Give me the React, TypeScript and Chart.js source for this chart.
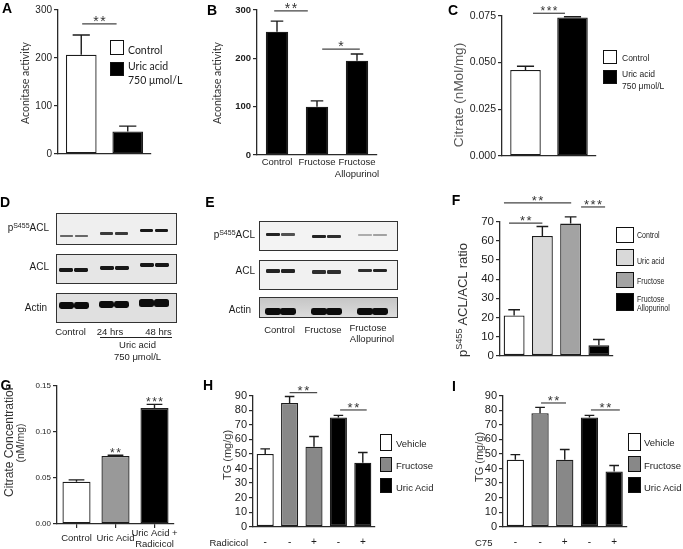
import React, { useEffect, useRef } from 'react';
import { Chart, registerables } from 'chart.js';

Chart.register(...registerables);

const FW = 683;
const FH = 549;
const SANS = '"Liberation Sans", Arial, Helvetica, sans-serif';
const HUMAN = 'Lato, "Open Sans", sans-serif';
const INK = '#1c1c1c';
const AXIS = '#2a2a2a';

// ---------- Panel A: aconitase activity (cells)
const A_GROUPS = ['Control', 'Uric acid 750 μmol/L'];
const A_MEANS = [207, 47];
const A_SEM = [41, 11];
const A_FILL = ['#ffffff', '#000000'];
const A_TICKS = [0, 100, 200, 300];

// ---------- Panel B: aconitase activity (fructose)
const B_GROUPS = [['Control'], ['Fructose'], ['Fructose', 'Allopurinol']];
const B_MEANS = [255, 100, 195];
const B_SEM = [22, 12, 14];
const B_FILL = ['#000000', '#000000', '#000000'];
const B_TICKS = [0, 100, 200, 300];

// ---------- Panel C: citrate
const C_GROUPS = ['Control', 'Uric acid 750 μmol/L'];
const C_MEANS = [0.046, 0.074];
const C_SEM = [0.002, 0.0004];
const C_FILL = ['#ffffff', '#000000'];
const C_TICKS = [0, 0.025, 0.05, 0.075];

// ---------- Panel F: pS455 ACL / ACL ratio
const F_GROUPS = ['Control', 'Uric acid', 'Fructose', 'Fructose Allopurinol'];
const F_MEANS = [21, 62.5, 69, 5.5];
const F_SEM = [3, 5, 3.5, 3];
const F_FILL = ['#ffffff', '#d9d9d9', '#a3a3a3', '#000000'];
const F_TICKS = [0, 10, 20, 30, 40, 50, 60, 70];

// ---------- Panel G: citrate concentration
const G_GROUPS = [['Control'], ['Uric Acid'], ['Uric Acid +', 'Radicicol']];
const G_MEANS = [0.046, 0.074, 0.126];
const G_SEM = [0.002, 0.0008, 0.004];
const G_FILL = ['#ffffff', '#999999', '#000000'];
const G_TICKS = [0, 0.05, 0.1, 0.15];

// ---------- Panels H and I: TG (mg/g)
const TG_LEGEND = ['Vehicle', 'Fructose', 'Uric Acid'];
const TG_LEGEND_FILL = ['#ffffff', '#888888', '#000000'];
const TG_FILL = ['#ffffff', '#888888', '#888888', '#000000', '#000000'];
const TG_TICKS = [0, 10, 20, 30, 40, 50, 60, 70, 80, 90];
const H_RADICICOL = ['-', '-', '+', '-', '+'];
const H_MEANS = [50, 85, 55, 75, 44];
const H_SEM = [3.5, 4.5, 7, 1.5, 7];
const I_C75 = ['-', '-', '+', '-', '+'];
const I_MEANS = [46, 78, 46, 75, 38];
const I_SEM = [3.5, 4, 7, 1.5, 4];

// ---------- significance marks (category units, value units)
const A_SIG = [{ from: 0.02, to: 0.76, at: 271, mark: '**' }];
const B_SIG = [
  { from: -0.07, to: 0.77, at: 298, mark: '**' },
  { from: 1.13, to: 2.07, at: 219, mark: '*' },
];
const C_SIG = [{ from: 0.16, to: 0.84, at: 0.0763, mark: '***' }];
const F_SIG = [
  { from: -0.36, to: 2.02, at: 79.8, mark: '**' },
  { from: 2.37, to: 3.22, at: 77.7, mark: '***' },
  { from: -0.18, to: 1.0, at: 69.3, mark: '**' },
];
const G_SIG = [
  { from: 1, to: 1, at: 0.0749, mark: '**', bare: true },
  { from: 2, to: 2, at: 0.13, mark: '***', bare: true },
];
const H_SIG = [
  { from: 1.0, to: 2.13, at: 92.1, mark: '**' },
  { from: 3.07, to: 4.16, at: 80.2, mark: '**' },
];
const I_SIG = [
  { from: 1.04, to: 2.05, at: 85, mark: '**' },
  { from: 3.06, to: 4.23, at: 80.2, mark: '**' },
];

// ---------- western blot band intensities (6 lanes)
const D_PACL = [0.6, 0.6, 0.8, 0.8, 0.95, 0.95];
const D_ACL = [0.95, 0.95, 0.95, 0.95, 0.95, 0.95];
const D_ACTIN = [1, 1, 1, 1, 1, 1];
const E_PACL = [0.9, 0.7, 0.9, 0.85, 0.3, 0.35];
const E_ACL = [0.9, 0.9, 0.85, 0.85, 0.85, 0.9];
const E_ACTIN = [1, 1, 1, 1, 1, 1];

type Sig = { from: number; to: number; at: number; mark: string; bare?: boolean };
type Spec = {
  labels: any[];
  values: number[];
  errors: number[];
  fill: string[];
  ticks: number[];
  area: { l: number; t: number; r: number; b: number };
  bar: number;
  yFont: any;
  yFmt?: (v: number) => string;
  xFont?: any;
  xPad?: number;
  xAlign?: string;
  xMarks?: boolean;
  sig: Sig[];
  sigSize: number;
};

function overlay(s: Spec) {
  return {
    id: 'errAndSig',
    afterDatasetsDraw(chart: any) {
      const ctx = chart.ctx;
      const ys = chart.scales.y;
      const xs = chart.scales.x;
      const meta = chart.getDatasetMeta(0);
      ctx.save();
      ctx.strokeStyle = INK;
      ctx.lineWidth = 1.4;
      meta.data.forEach((el: any, i: number) => {
        const e = s.errors[i];
        if (!e) return;
        const top = ys.getPixelForValue(s.values[i] + e);
        const half = el.width * 0.28;
        ctx.beginPath();
        ctx.moveTo(el.x, el.y);
        ctx.lineTo(el.x, top);
        ctx.moveTo(el.x - half, top);
        ctx.lineTo(el.x + half, top);
        ctx.stroke();
      });
      ctx.fillStyle = '#333';
      ctx.strokeStyle = '#444';
      ctx.lineWidth = 1.2;
      ctx.textAlign = 'center';
      ctx.textBaseline = 'alphabetic';
      ctx.font = `${s.sigSize}px ${SANS}`;
      try { (ctx as any).letterSpacing = '1.5px'; } catch (e) {}
      s.sig.forEach((g) => {
        const y = ys.getPixelForValue(g.at);
        const x1 = xs.getPixelForValue(g.from);
        const x2 = xs.getPixelForValue(g.to);
        if (!g.bare) {
          ctx.beginPath();
          ctx.moveTo(x1, y);
          ctx.lineTo(x2, y);
          ctx.stroke();
          ctx.fillText(g.mark, (x1 + x2) / 2 + 0.75, y + 2);
        } else {
          ctx.fillText(g.mark, (x1 + x2) / 2 + 0.75, y + 1.5);
        }
      });
      ctx.restore();
    },
  };
}

function buildConfig(s: Spec): any {
  const { l, t, r, b } = s.area;
  const ticks = s.ticks;
  return {
    type: 'bar',
    data: {
      labels: s.labels,
      datasets: [
        {
          data: s.values,
          backgroundColor: s.fill,
          borderColor: INK,
          borderWidth: 1.3,
          borderSkipped: false,
          barPercentage: s.bar,
          categoryPercentage: 1,
        },
      ],
    },
    options: {
      responsive: false,
      maintainAspectRatio: false,
      animation: false,
      devicePixelRatio: 1,
      events: [],
      layout: { padding: { left: 0, top: t, right: FW - r, bottom: 0 } },
      plugins: { legend: { display: false }, tooltip: { enabled: false }, title: { display: false } },
      scales: {
        x: {
          type: 'category',
          offset: true,
          grid: {
            display: !!s.xMarks,
            drawOnChartArea: false,
            drawTicks: !!s.xMarks,
            tickLength: 4,
            offset: false,
            color: AXIS,
            tickColor: AXIS,
            lineWidth: 1.2,
          },
          border: { display: true, color: AXIS, width: 1.3 },
          ticks: {
            display: !!s.xFont,
            autoSkip: false,
            maxRotation: 0,
            minRotation: 0,
            color: INK,
            font: s.xFont || { size: 10 },
            padding: s.xPad ?? 2,
            crossAlign: s.xAlign ?? 'near',
          },
          afterFit: (sc: any) => {
            sc.height = FH - b;
          },
        },
        y: {
          type: 'linear',
          min: ticks[0],
          max: ticks[ticks.length - 1],
          grid: {
            display: true,
            drawOnChartArea: false,
            drawTicks: true,
            tickLength: 4,
            color: AXIS,
            tickColor: AXIS,
            lineWidth: 1.2,
          },
          border: { display: true, color: AXIS, width: 1.3 },
          ticks: {
            autoSkip: false,
            color: INK,
            font: s.yFont,
            padding: 2,
            callback: (v: number) => (s.yFmt ? s.yFmt(v) : String(v)),
          },
          afterBuildTicks: (sc: any) => {
            sc.ticks = ticks.map((v) => ({ value: v }));
          },
          afterFit: (sc: any) => {
            sc.width = l;
          },
        },
      },
    },
    plugins: [overlay(s)],
  };
}

const SPECS: Spec[] = [
  {
    labels: A_GROUPS, values: A_MEANS, errors: A_SEM, fill: A_FILL, ticks: A_TICKS,
    area: { l: 58, t: 10, r: 151, b: 154 }, bar: 0.66,
    yFont: { family: SANS, size: 10 }, sig: A_SIG, sigSize: 14,
  },
  {
    labels: B_GROUPS, values: B_MEANS, errors: B_SEM, fill: B_FILL, ticks: B_TICKS,
    area: { l: 257, t: 10, r: 377, b: 155 }, bar: 0.56,
    yFont: { family: SANS, size: 9.5, weight: 'bold' },
    xFont: { family: SANS, size: 9.5 }, xPad: 2, xAlign: 'near',
    sig: B_SIG, sigSize: 14,
  },
  {
    labels: C_GROUPS, values: C_MEANS, errors: C_SEM, fill: C_FILL, ticks: C_TICKS,
    area: { l: 502, t: 15.7, r: 596, b: 156 }, bar: 0.65,
    yFont: { family: SANS, size: 10.5 }, yFmt: (v) => v.toFixed(3),
    sig: C_SIG, sigSize: 12,
  },
  {
    labels: F_GROUPS, values: F_MEANS, errors: F_SEM, fill: F_FILL, ticks: F_TICKS,
    area: { l: 500, t: 221.7, r: 613, b: 355.7 }, bar: 0.74,
    yFont: { family: SANS, size: 11.5 }, sig: F_SIG, sigSize: 13,
  },
  {
    labels: G_GROUPS, values: G_MEANS, errors: G_SEM, fill: G_FILL, ticks: G_TICKS,
    area: { l: 57, t: 386, r: 174, b: 524 }, bar: 0.72,
    yFont: { family: SANS, size: 8 }, yFmt: (v) => v.toFixed(2),
    xFont: { family: SANS, size: 9.5 }, xPad: 5, xAlign: 'center', xMarks: true,
    sig: G_SIG, sigSize: 12,
  },
  {
    labels: H_RADICICOL, values: H_MEANS, errors: H_SEM, fill: TG_FILL, ticks: TG_TICKS,
    area: { l: 253, t: 395.7, r: 375, b: 526.7 }, bar: 0.7,
    yFont: { family: SANS, size: 11 },
    xFont: { family: SANS, size: 10 }, xPad: 10, xAlign: 'near',
    sig: H_SIG, sigSize: 13,
  },
  {
    labels: I_C75, values: I_MEANS, errors: I_SEM, fill: TG_FILL, ticks: TG_TICKS,
    area: { l: 503, t: 395.7, r: 626.5, b: 526.7 }, bar: 0.7,
    yFont: { family: SANS, size: 11 },
    xFont: { family: SANS, size: 10 }, xPad: 10, xAlign: 'near',
    sig: I_SIG, sigSize: 13,
  },
];

function BarPanel({ spec }: { spec: Spec }) {
  const ref = useRef<HTMLCanvasElement>(null);
  useEffect(() => {
    const chart = new Chart(ref.current as HTMLCanvasElement, buildConfig(spec));
    return () => chart.destroy();
  }, []);
  return (
    <canvas
      ref={ref}
      width={FW}
      height={FH}
      style={{ position: 'absolute', left: 0, top: 0, width: FW, height: FH, pointerEvents: 'none' }}
    />
  );
}

function T(props: any) {
  const { x, y, children, size = 10, align = 'left', family = SANS, weight = 400, color = INK, sx = 1 } = props;
  const tx = align === 'center' ? '-50%' : align === 'right' ? '-100%' : '0';
  const origin = align === 'center' ? '50% 50%' : align === 'right' ? '100% 50%' : '0 50%';
  return (
    <div
      style={{
        position: 'absolute', left: x, top: y,
        transform: `translate(${tx}, -50%) scaleX(${sx})`, transformOrigin: origin,
        fontSize: size, fontFamily: family, fontWeight: weight, color, lineHeight: 1, whiteSpace: 'nowrap',
      }}
    >
      {children}
    </div>
  );
}

function V(props: any) {
  const { x, y, children, size = 10, family = SANS, color = INK } = props;
  return (
    <div
      style={{
        position: 'absolute', left: x, top: y, transform: 'translate(-50%, -50%) rotate(-90deg)',
        fontSize: size, fontFamily: family, color, lineHeight: 1, whiteSpace: 'nowrap',
      }}
    >
      {children}
    </div>
  );
}

function Sw({ x1, y1, x2, y2, fill }: any) {
  return (
    <div
      style={{
        position: 'absolute', left: x1, top: y1, width: x2 - x1, height: y2 - y1,
        background: fill, border: '1.3px solid #111', boxSizing: 'border-box',
      }}
    />
  );
}

function Letter({ x, y, children }: any) {
  return <T x={x} y={y} size={14} weight={700} align="center" color="#000">{children}</T>;
}

function BlotRow({ x1, x2, y1, y2, bg, ys, hs, alphas, bw, shift, sep = 7.5 }: any) {
  const w = x2 - x1;
  const bands = alphas.map((a: number, i: number) => {
    const g = Math.floor(i / 2);
    const cx = x1 + (g + 0.5) * (w / 3) + shift + (i % 2 === 0 ? -sep : sep);
    const cy = ys[g];
    const h = hs[g];
    return (
      <div
        key={i}
        style={{
          position: 'absolute', left: cx - bw / 2, top: cy - h / 2, width: bw, height: h,
          background: `rgba(12,12,12,${a})`, borderRadius: `${Math.min(h * 0.35, 2.5)}px`,
          filter: 'blur(0.6px)',
        }}
      />
    );
  });
  return (
    <>
      <div
        style={{
          position: 'absolute', left: x1, top: y1, width: x2 - x1, height: y2 - y1,
          background: bg, border: '1.5px solid #333', boxSizing: 'border-box',
        }}
      />
      {bands}
    </>
  );
}

const PACL = (
  <>
    p<sup style={{ fontSize: '0.7em', verticalAlign: '0.45em', lineHeight: 0 }}>S455</sup>ACL
  </>
);

export default function App() {
  return (
    <div
      style={{
        position: 'absolute', left: 0, top: 0, width: FW, height: FH, background: '#fff',
        overflow: 'hidden', fontFamily: SANS, color: INK,
      }}
    >
      {SPECS.map((s, i) => (
        <BarPanel key={i} spec={s} />
      ))}

      {/* panel letters */}
      <Letter x={7} y={8}>A</Letter>
      <Letter x={212} y={10}>B</Letter>
      <Letter x={453} y={10}>C</Letter>
      <Letter x={5} y={202}>D</Letter>
      <Letter x={210} y={202}>E</Letter>
      <Letter x={456} y={200}>F</Letter>
      <Letter x={6} y={385}>G</Letter>
      <Letter x={208} y={385}>H</Letter>
      <Letter x={454} y={386}>I</Letter>

      {/* axis titles */}
      <V x={25} y={83} size={10.5} family={HUMAN} color="#333">Aconitase activity</V>
      <V x={217} y={83} size={10.5} family={HUMAN} color="#333">Aconitase activity</V>
      <V x={459} y={95} size={13.5} color="#555">Citrate (nMol/mg)</V>
      <V x={462} y={300} size={13} color="#333">
        p<sup style={{ fontSize: '0.7em', verticalAlign: '0.45em', lineHeight: 0 }}>S455</sup> ACL/ACL ratio
      </V>
      <div style={{ position: 'absolute', left: 0, top: 386, width: 16, height: 130, overflow: 'hidden' }}>
        <div
          style={{
            position: 'absolute', left: 3, top: 111, transform: 'rotate(-90deg)', transformOrigin: '0 0',
            fontSize: 12, fontFamily: SANS, color: '#333', lineHeight: 1, whiteSpace: 'nowrap',
          }}
        >
          Citrate Concentration
        </div>
      </div>
      <V x={20} y={443} size={10.5} color="#333">(nM/mg)</V>
      <V x={227} y={455} size={11} color="#333">TG (mg/g)</V>
      <V x={479} y={457} size={11} color="#333">TG (mg/g)</V>

      {/* legend A */}
      <Sw x1={110} y1={40} x2={124} y2={55} fill={A_FILL[0]} />
      <Sw x1={110} y1={62} x2={124} y2={76} fill={A_FILL[1]} />
      <T x={128} y={50} size={10.5} family={HUMAN}>{A_GROUPS[0]}</T>
      <T x={128} y={66} size={10.5} family={HUMAN}>Uric acid</T>
      <T x={128} y={80} size={10.5} family={HUMAN}>750 μmol/L</T>

      {/* legend C */}
      <Sw x1={603} y1={50} x2={617} y2={64} fill={C_FILL[0]} />
      <Sw x1={603} y1={70} x2={617} y2={84} fill={C_FILL[1]} />
      <T x={622} y={57.5} size={8.5}>{C_GROUPS[0]}</T>
      <T x={622} y={74} size={8.5}>Uric acid</T>
      <T x={622} y={86} size={8.5}>750 μmol/L</T>

      {/* legend F */}
      <Sw x1={616} y1={227} x2={634} y2={243} fill={F_FILL[0]} />
      <Sw x1={616} y1={249} x2={634} y2={266} fill={F_FILL[1]} />
      <Sw x1={616} y1={272} x2={634} y2={288} fill={F_FILL[2]} />
      <Sw x1={616} y1={293} x2={634} y2={311} fill={F_FILL[3]} />
      <T x={637} y={234.5} size={9.5} sx={0.74}>{F_GROUPS[0]}</T>
      <T x={637} y={260.5} size={9.5} sx={0.74}>{F_GROUPS[1]}</T>
      <T x={637} y={280.5} size={9.5} sx={0.74}>{F_GROUPS[2]}</T>
      <T x={637} y={298.5} size={9.5} sx={0.74}>Fructose</T>
      <T x={637} y={307.5} size={9.5} sx={0.74}>Allopurinol</T>

      {/* legend H */}
      <Sw x1={380} y1={434} x2={392} y2={451} fill={TG_LEGEND_FILL[0]} />
      <Sw x1={380} y1={457} x2={392} y2={472} fill={TG_LEGEND_FILL[1]} />
      <Sw x1={380} y1={478} x2={392} y2={493} fill={TG_LEGEND_FILL[2]} />
      <T x={396} y={444} size={9.5}>{TG_LEGEND[0]}</T>
      <T x={396} y={466} size={9.5}>{TG_LEGEND[1]}</T>
      <T x={396} y={488} size={9.5}>{TG_LEGEND[2]}</T>
      <T x={248} y={543} size={9.5} align="right">Radicicol</T>

      {/* legend I */}
      <Sw x1={628} y1={433} x2={641} y2={451} fill={TG_LEGEND_FILL[0]} />
      <Sw x1={628} y1={456} x2={641} y2={472} fill={TG_LEGEND_FILL[1]} />
      <Sw x1={628} y1={477} x2={641} y2={493} fill={TG_LEGEND_FILL[2]} />
      <T x={644} y={443} size={9.5}>{TG_LEGEND[0]}</T>
      <T x={644} y={466} size={9.5}>{TG_LEGEND[1]}</T>
      <T x={644} y={488} size={9.5}>{TG_LEGEND[2]}</T>
      <T x={475} y={543} size={9.5}>C75</T>

      {/* blot D */}
      <BlotRow x1={56} x2={177} y1={213} y2={245} bg="#efefef" ys={[235.5, 233.5, 230.5]} hs={[2, 2.8, 3.5]} alphas={D_PACL} bw={13} shift={-2.5} />
      <BlotRow x1={56} x2={177} y1={254} y2={284} bg="#e6e6e6" ys={[269.5, 267.5, 264.5]} hs={[4, 4, 4]} alphas={D_ACL} bw={14} shift={-2.5} />
      <BlotRow x1={56} x2={177} y1={293} y2={323} bg="#e0e0e0" ys={[305.5, 304.5, 303]} hs={[7, 7, 8]} alphas={D_ACTIN} bw={15} shift={-2.5} />
      <T x={49} y={228} size={10} align="right">{PACL}</T>
      <T x={49} y={267} size={10} align="right">ACL</T>
      <T x={47} y={308} size={10} align="right">Actin</T>
      <T x={70.5} y={332} size={9.5} align="center">Control</T>
      <T x={110} y={332} size={9.5} align="center">24 hrs</T>
      <T x={158.5} y={332} size={9.5} align="center">48 hrs</T>
      <div style={{ position: 'absolute', left: 100, top: 336.5, width: 72, height: 1, background: '#222' }} />
      <T x={137.5} y={345} size={9.5} align="center">Uric acid</T>
      <T x={137.5} y={356.5} size={9.5} align="center">750 μmol/L</T>

      {/* blot E */}
      <BlotRow x1={259} x2={398} y1={221} y2={251} bg="#f3f3f3" ys={[234.5, 236.5, 235]} hs={[3, 3, 2]} alphas={E_PACL} bw={14} shift={-2} />
      <BlotRow x1={259} x2={398} y1={260} y2={290} bg="#f1f1f1" ys={[271, 272, 270.5]} hs={[3.5, 3.5, 3.5]} alphas={E_ACL} bw={14} shift={-2} />
      <BlotRow x1={259} x2={398} y1={297} y2={318} bg="linear-gradient(#c6c6c6, #dcdcdc)" ys={[311, 311.5, 311]} hs={[7, 7, 7]} alphas={E_ACTIN} bw={16} shift={-2} />
      <T x={255} y={234.5} size={10} align="right">{PACL}</T>
      <T x={255} y={271} size={10} align="right">ACL</T>
      <T x={251} y={310} size={10} align="right">Actin</T>
      <T x={279.5} y={330} size={9.5} align="center">Control</T>
      <T x={323} y={330} size={9.5} align="center">Fructose</T>
      <T x={368} y={327.7} size={9.5} align="center">Fructose</T>
      <T x={372} y={339.3} size={9.5} align="center">Allopurinol</T>
    </div>
  );
}
